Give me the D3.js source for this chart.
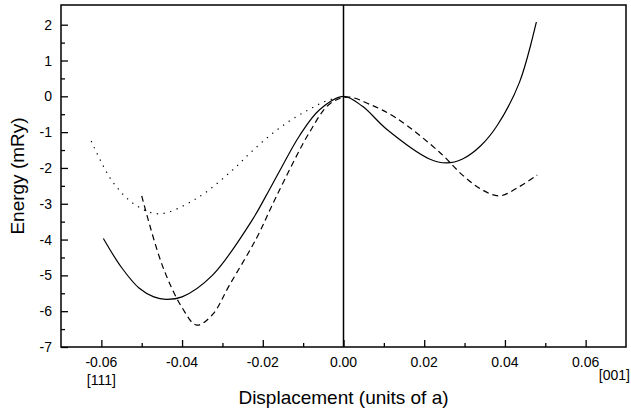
<!DOCTYPE html>
<html>
<head>
<meta charset="utf-8">
<script src="https://cdn.jsdelivr.net/npm/d3@7"></script>
<style>
  body { margin: 0; background: #fff; }
  svg text { font-family: "Liberation Sans", Arial, sans-serif; fill: #000; }
  .tick-label { font-size: 14px; }
  .axis-title { font-size: 19px; }
  .curve { fill: none; stroke: #000; stroke-width: 1.2; }
</style>
</head>
<body>
<svg id="chart" width="631" height="413"></svg>
<script>

/*** DATA ***/

let solid_x = [-0.0595, -0.055, -0.0506, -0.047, -0.044, -0.040, -0.0325, -0.0226, -0.0192, -0.0159, -0.0109, -0.006, 0, 0.0047, 0.0107, 0.0213, 0.0255, 0.0295, 0.034, 0.038, 0.0436, 0.0478];
let solid_e = [-3.97, -4.78, -5.36, -5.6, -5.67, -5.6, -5.0, -3.45, -2.78, -2.1, -1.1, -0.38, 0, -0.28, -0.92, -1.75, -1.86, -1.75, -1.38, -0.83, 0.39, 2.08];

let dashed_x = [-0.050, -0.0449, -0.040, -0.0364, -0.0325, -0.0283, -0.0216, -0.0167, -0.0084, -0.0035, 0.001, 0.0064, 0.013, 0.0238, 0.0295, 0.0345, 0.0387, 0.0436, 0.048];
let dashed_e = [-2.78, -4.72, -5.9, -6.39, -6.1, -5.28, -3.97, -2.81, -1.0, -0.22, -0.02, -0.22, -0.6, -1.56, -2.2, -2.62, -2.78, -2.52, -2.2];

let dotted_x = [-0.0625, -0.0572, -0.0513, -0.0456, -0.0364, -0.0274, -0.0233, -0.0183, -0.0134, -0.0084, -0.0043, 0];
let dotted_e = [-1.25, -2.39, -3.05, -3.28, -2.85, -2.05, -1.6, -1.1, -0.69, -0.36, -0.13, 0];

let x_ticks = [-0.06, -0.04, -0.02, 0.00, 0.02, 0.04, 0.06];
let y_ticks = [-7, -6, -5, -4, -3, -2, -1, 0, 1, 2];

/*** SCALES ***/

let svg = d3.select("#chart");

let margin = {top: 5, right: 5, bottom: 66, left: 61},
    width  = 631 - margin.left - margin.right,
    height = 413 - margin.top - margin.bottom;

let x = d3.scaleLinear().domain([-0.07, 0.07]).range([margin.left, margin.left + width]),
    y = d3.scaleLinear().domain([-7, 2.55]).range([margin.top + height, margin.top]);

/*** AXES (ticks pointing inward) ***/

let x_axis = svg.append("g")
    .attr("transform", "translate(0," + (margin.top + height) + ")")
    .call(d3.axisBottom(x).tickValues(d3.range(-0.06, 0.0601, 0.01)).tickSize(-4).tickFormat(""));
x_axis.selectAll(".tick line")
    .attr("y2", (d) => Math.abs(Math.round(d * 100)) % 2 === 0 ? -7 : -4);

let y_axis = svg.append("g")
    .attr("transform", "translate(" + margin.left + ",0)")
    .call(d3.axisLeft(y).tickValues(d3.range(-7, 2.01, 0.5)).tickSize(-4).tickFormat(""));
y_axis.selectAll(".tick line")
    .attr("x2", (d) => Number.isInteger(d) ? 7 : 4);

svg.selectAll(".domain").remove();
svg.selectAll(".tick line").attr("stroke", "#000").attr("stroke-width", 1.3);

svg.selectAll("text.x-label")
    .data(x_ticks).enter()
    .append("text")
    .classed("tick-label", true)
    .attr("x", (d) => x(d))
    .attr("y", margin.top + height + 20)
    .attr("text-anchor", "middle")
    .text((d) => d3.format(".2f")(d).replace("−", "-"));

svg.selectAll("text.y-label")
    .data(y_ticks).enter()
    .append("text")
    .classed("tick-label", true)
    .attr("x", margin.left - 9)
    .attr("y", (d) => y(d) + 5)
    .attr("text-anchor", "end")
    .text((d) => d);

// frame
svg.append("rect")
    .attr("x", margin.left)
    .attr("y", margin.top)
    .attr("width", width)
    .attr("height", height)
    .attr("fill", "none")
    .attr("stroke", "#000")
    .attr("stroke-width", 1.5);

// vertical line at zero
svg.append("line")
    .attr("x1", x(0)).attr("x2", x(0))
    .attr("y1", margin.top).attr("y2", margin.top + height)
    .attr("stroke", "#000")
    .attr("stroke-width", 1.5);

/*** CURVES ***/

let line = d3.line().x((d) => x(d[0])).y((d) => y(d[1])).curve(d3.curveCatmullRom.alpha(0.5));

svg.append("path")
    .classed("curve", true)
    .attr("d", line(d3.zip(solid_x, solid_e)));

svg.append("path")
    .classed("curve", true)
    .attr("stroke-dasharray", "6,4")
    .attr("d", line(d3.zip(dashed_x, dashed_e)));

svg.append("path")
    .classed("curve", true)
    .attr("stroke-dasharray", "1.3,5.5")
    .attr("d", line(d3.zip(dotted_x, dotted_e)));

/*** TITLES ***/

svg.append("text")
    .classed("axis-title", true)
    .attr("x", x(0))
    .attr("y", 404)
    .attr("text-anchor", "middle")
    .text("Displacement (units of a)");

svg.append("text")
    .classed("axis-title", true)
    .attr("transform", "translate(24," + (margin.top + height / 2) + ") rotate(-90)")
    .attr("text-anchor", "middle")
    .text("Energy (mRy)");

svg.append("text")
    .classed("tick-label", true)
    .attr("x", x(-0.06))
    .attr("y", margin.top + height + 38)
    .attr("text-anchor", "middle")
    .text("[111]");

svg.append("text")
    .classed("tick-label", true)
    .attr("x", 630)
    .attr("y", margin.top + height + 33)
    .attr("text-anchor", "end")
    .text("[001]");

</script>
</body>
</html>
